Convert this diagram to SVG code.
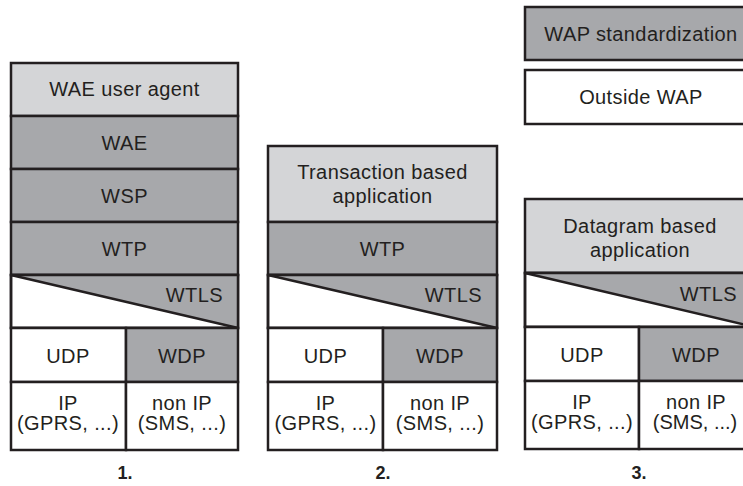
<svg xmlns="http://www.w3.org/2000/svg" width="743" height="486" viewBox="0 0 743 486">
<style>
rect{stroke:#231f20;stroke-width:2.5}
.lt{fill:#d4d5d7}
.dk{fill:#a7a8ab}
.wh{fill:#ffffff}
text{font-family:"Liberation Sans",Arial,sans-serif;font-size:20px;fill:#231f20;text-anchor:middle;letter-spacing:0.4px}
.r{text-anchor:end}
.lbl{font-weight:bold;font-size:18px;letter-spacing:0}
.diag{stroke:#231f20;stroke-width:2.5;fill:none}
</style>
<rect width="743" height="486" fill="#ffffff" style="stroke:none"/>
<g id="legend">
  <g id="legend-wap"><rect class="dk" x="525" y="7" width="230" height="53"/><text x="641" y="41">WAP standardization</text></g>
  <g id="legend-outside"><rect class="wh" x="525" y="70" width="230" height="54"/><text x="641" y="104">Outside WAP</text></g>
</g>
<g id="stack1">
  <g id="s1-ua"><rect class="lt" x="11" y="63" width="227" height="53"/><text x="124.5" y="96">WAE user agent</text></g>
  <g id="s1-wae"><rect class="dk" x="11" y="116" width="227" height="53"/><text x="124.5" y="150">WAE</text></g>
  <g id="s1-wsp"><rect class="dk" x="11" y="169" width="227" height="53"/><text x="124.5" y="203">WSP</text></g>
  <g id="s1-wtp"><rect class="dk" x="11" y="222" width="227" height="53"/><text x="124.5" y="256">WTP</text></g>
  <g id="s1-wtls"><rect class="wh" x="11" y="275" width="227" height="53"/><polygon points="11,275 238,275 238,328" class="dk" style="stroke:none"/><line class="diag" x1="11" y1="275" x2="238" y2="328"/><rect x="11" y="275" width="227" height="53" style="fill:none"/><text class="r" x="223" y="302">WTLS</text></g>
  <g id="s1-udp"><rect class="wh" x="11" y="328" width="115" height="54"/><text x="68" y="363">UDP</text></g>
  <g id="s1-wdp"><rect class="dk" x="126" y="328" width="112" height="54"/><text x="182" y="363">WDP</text></g>
  <g id="s1-ip"><rect class="wh" x="11" y="382" width="115" height="68"/><text x="68" y="410">IP</text><text x="68" y="430">(GPRS, ...)</text></g>
  <g id="s1-nonip"><rect class="wh" x="126" y="382" width="112" height="68"/><text x="182" y="410">non IP</text><text x="182" y="430">(SMS, ...)</text></g>
  <text class="lbl" x="125" y="479">1.</text>
</g>
<g id="stack2">
  <g id="s2-app"><rect class="lt" x="268" y="146" width="229" height="76"/><text x="382.5" y="179">Transaction based</text><text x="382.5" y="203">application</text></g>
  <g id="s2-wtp"><rect class="dk" x="268" y="222" width="229" height="53"/><text x="382.5" y="256">WTP</text></g>
  <g id="s2-wtls"><rect class="wh" x="268" y="275" width="229" height="53"/><polygon points="268,275 497,275 497,328" class="dk" style="stroke:none"/><line class="diag" x1="268" y1="275" x2="497" y2="328"/><rect x="268" y="275" width="229" height="53" style="fill:none"/><text class="r" x="482" y="302">WTLS</text></g>
  <g id="s2-udp"><rect class="wh" x="268" y="328" width="115" height="54"/><text x="325.5" y="363">UDP</text></g>
  <g id="s2-wdp"><rect class="dk" x="383" y="328" width="114" height="54"/><text x="440" y="363">WDP</text></g>
  <g id="s2-ip"><rect class="wh" x="268" y="382" width="115" height="68"/><text x="325.5" y="410">IP</text><text x="325.5" y="430">(GPRS, ...)</text></g>
  <g id="s2-nonip"><rect class="wh" x="383" y="382" width="114" height="68"/><text x="440" y="410">non IP</text><text x="440" y="430">(SMS, ...)</text></g>
  <text class="lbl" x="383" y="479">2.</text>
</g>
<g id="stack3">
  <g id="s3-app"><rect class="lt" x="525" y="199" width="230" height="74"/><text x="640" y="233">Datagram based</text><text x="640" y="257">application</text></g>
  <g id="s3-wtls"><rect class="wh" x="525" y="273" width="230" height="54"/><polygon points="525,273 755,273 755,327" class="dk" style="stroke:none"/><line class="diag" x1="525" y1="273" x2="755" y2="327"/><rect x="525" y="273" width="230" height="54" style="fill:none"/><text class="r" x="737" y="301">WTLS</text></g>
  <g id="s3-udp"><rect class="wh" x="525" y="327" width="114" height="54"/><text x="582" y="362">UDP</text></g>
  <g id="s3-wdp"><rect class="dk" x="639" y="327" width="116" height="54"/><text x="696" y="362">WDP</text></g>
  <g id="s3-ip"><rect class="wh" x="525" y="381" width="114" height="68"/><text x="582" y="409">IP</text><text x="582" y="429">(GPRS, ...)</text></g>
  <g id="s3-nonip"><rect class="wh" x="639" y="381" width="116" height="68"/><text x="696" y="409">non IP</text><text x="695" y="429" style="letter-spacing:0">(SMS, ...)</text></g>
  <text class="lbl" x="639" y="479">3.</text>
</g>
<g id="connectors"/>
</svg>
